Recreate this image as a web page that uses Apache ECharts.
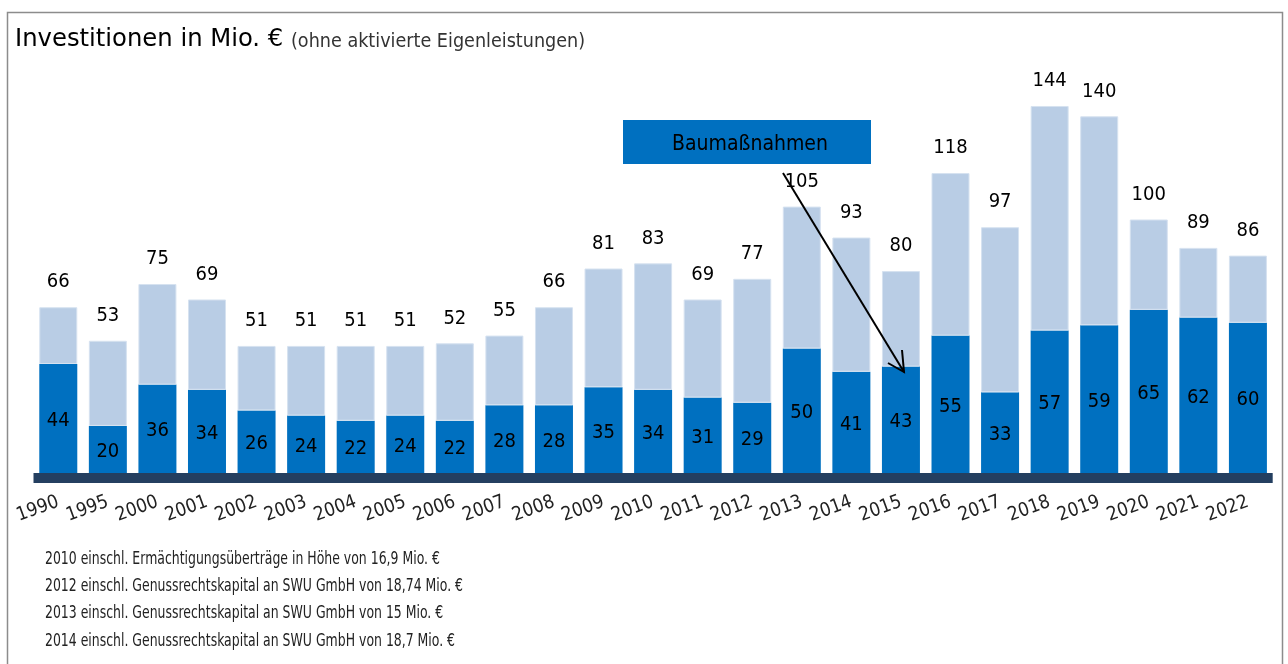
<!DOCTYPE html>
<html>
<head>
<meta charset="utf-8">
<script src="https://cdn.jsdelivr.net/npm/echarts@6/dist/echarts.min.js"></script>
<style>
  html, body { margin: 0; padding: 0; background: #fff; }
  #chart { width: 1288px; height: 664px; }
</style>
</head>
<body>
<div id="chart"></div>
<script>
// Jahre
var years = ['1990','1995','2000','2001','2002','2003','2004','2005','2006','2007','2008','2009','2010',
             '2011','2012','2013','2014','2015','2016','2017','2018','2019','2020','2021','2022'];
// Investitionen gesamt
var totals = [66,53,75,69,51,51,51,51,52,55,66,81,83,69,77,105,93,80,118,97,144,140,100,89,86];
// davon Baumaßnahmen
var baumass = [44,20,36,34,26,24,22,24,22,28,28,35,34,31,29,50,41,43,55,33,57,59,65,62,60];
// Rest (hellblau)
var rest = totals.map(function (t, i) { return t - baumass[i]; });

var notes = [
  '2010 einschl. Ermächtigungsüberträge in Höhe von 16,9 Mio. €',
  '2012 einschl. Genussrechtskapital an SWU GmbH von 18,74 Mio. €',
  '2013 einschl. Genussrechtskapital an SWU GmbH von 15 Mio. €',
  '2014 einschl. Genussrechtskapital an SWU GmbH von 18,7 Mio. €'
];

var FONT = '"Liberation Sans Narrow", "DejaVu Sans Condensed", "Roboto", sans-serif';

var myChart = echarts.init(document.getElementById('chart'));

// Fußnoten, etwas schmaler gezogen
var noteTexts = notes.map(function (n, i) {
  return {
    type: 'text', x: 45, y: 550 + i * 27.4, scaleX: 0.77,
    style: { text: n, fontFamily: FONT, fontSize: 18, fill: '#222', verticalAlign: 'top' }
  };
});

var option = {
  backgroundColor: '#fff',
  animation: false,
  grid: { left: 33.5, right: 15.3, top: 64.7, bottom: 186.5 },
  xAxis: {
    type: 'category',
    data: years,
    z: 5,
    axisLine: { lineStyle: { color: '#243F60', width: 10, cap: 'butt' } },
    axisTick: { show: false },
    axisLabel: {
      rotate: 20, margin: 24, interval: 0,
      fontFamily: FONT, fontSize: 19, color: '#222'
    }
  },
  yAxis: {
    type: 'value', min: 0, max: 160,
    show: false
  },
  series: [
    {
      name: 'Baumaßnahmen',
      type: 'bar',
      stack: 'inv',
      barWidth: 38,
      data: baumass,
      itemStyle: { color: '#0070C0' },
      label: {
        show: true, position: 'inside',
        fontFamily: FONT, fontSize: 20, color: '#000'
      }
    },
    {
      name: 'Sonstige',
      type: 'bar',
      stack: 'inv',
      barWidth: 38,
      data: rest,
      itemStyle: { color: '#B9CDE5', borderColor: '#D6E2F0', borderWidth: 1 },
      label: {
        show: true, position: 'top', distance: 15,
        fontFamily: FONT, fontSize: 20, color: '#000',
        formatter: function (p) { return totals[p.dataIndex]; }
      }
    }
  ],
  graphic: [
    {
      type: 'rect', z: -1,
      shape: { x: 7.5, y: 12.5, width: 1275, height: 700 },
      style: { fill: 'none', stroke: '#8c8c8c', lineWidth: 1.5 }
    },
    {
      type: 'text', x: 15, y: 27, scaleX: 1.08,
      style: { text: 'Investitionen in Mio. €', fontFamily: FONT, fontSize: 25, fill: '#000', verticalAlign: 'top' }
    },
    {
      type: 'text', x: 291, y: 33, scaleX: 1.03,
      style: { text: '(ohne aktivierte Eigenleistungen)', fontFamily: FONT, fontSize: 19, fill: '#333', verticalAlign: 'top' }
    },
    {
      type: 'rect', z: 10,
      shape: { x: 623, y: 120, width: 248, height: 44 },
      style: { fill: '#0070C0' }
    },
    {
      type: 'text', z: 11, x: 672, y: 134,
      style: { text: 'Baumaßnahmen', fontFamily: FONT, fontSize: 21, fill: '#000', verticalAlign: 'top' }
    },
    {
      type: 'line', z: 12,
      shape: { x1: 783, y1: 173, x2: 904, y2: 372 },
      style: { stroke: '#000', lineWidth: 2 }
    },
    {
      type: 'polyline', z: 12,
      shape: { points: [[888, 363], [904, 372], [902, 350]] },
      style: { stroke: '#000', lineWidth: 2, fill: 'none' }
    }
  ].concat(noteTexts)
};

myChart.setOption(option);
</script>
</body>
</html>
